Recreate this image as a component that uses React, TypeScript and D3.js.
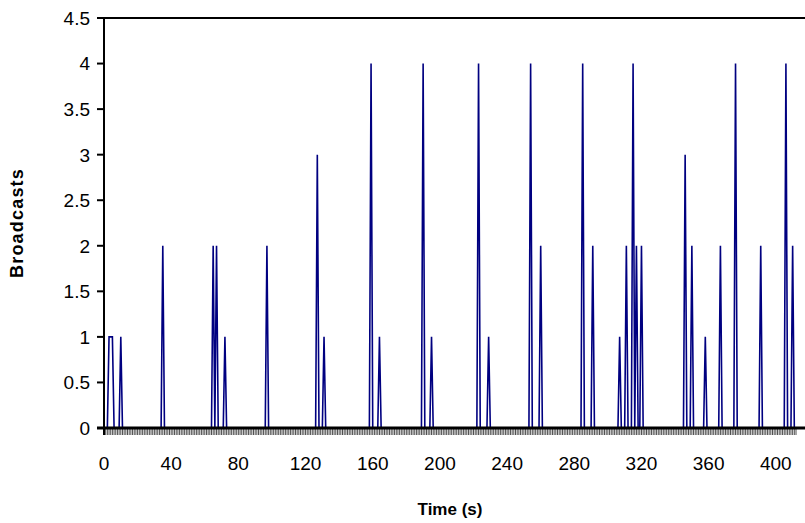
import React from 'react';
import * as d3 from 'd3';

// broadcast events: second -> number of broadcasts
const spikeTimes = [3, 4, 5, 10, 35, 65, 67, 72, 97, 127, 131, 159, 164, 190, 195, 223, 229, 254, 260,
  285, 291, 307, 311, 315, 317, 320, 346, 350, 358, 367, 376, 391, 406, 410];
const spikeValues = [1, 1, 1, 1, 2, 2, 2, 1, 2, 3, 1, 4, 1, 4, 1, 4, 1, 4, 2,
  4, 2, 1, 2, 4, 2, 2, 3, 2, 1, 2, 4, 2, 4, 2];
const lastSecond = 412;
const xTicks = [0, 40, 80, 120, 160, 200, 240, 280, 320, 360, 400];
const yTicks = [0, 0.5, 1, 1.5, 2, 2.5, 3, 3.5, 4, 4.5];

const W = 805;
const H = 523;
const left = 104;
const right = 796;
const top = 18;
const bottom = 428;

export default function App() {
  // every second has a point, zero unless a broadcast was recorded
  const series = d3.range(0, lastSecond + 1).map(t => {
    const i = spikeTimes.indexOf(t);
    return { t, v: i >= 0 ? spikeValues[i] : 0 };
  });

  const x = d3.scaleLinear().domain([0, lastSecond]).range([left, right]);
  const y = d3.scaleLinear().domain([0, 4.5]).range([bottom, top]);

  const line = d3.line<{ t: number; v: number }>()
    .x(d => x(d.t))
    .y(d => y(d.v));

  const font = 'Liberation Sans, Arial, sans-serif';

  return (
    <svg width={W} height={H} style={{ position: 'absolute', left: 0, top: 0, background: '#fff' }}>
      {/* top border */}
      <line x1={left - 7} x2={W} y1={top} y2={top} stroke="#000" strokeWidth={2} />

      {/* category ticks under the baseline, one per second */}
      {d3.range(0, lastSecond + 1).map(t => (
        <line key={'c' + t} x1={x(t)} x2={x(t)} y1={bottom} y2={bottom + 7}
          stroke="#222" strokeWidth={0.8} />
      ))}

      {/* y ticks + labels */}
      {yTicks.map(v => (
        <g key={'y' + v}>
          <line x1={left - 7} x2={left} y1={y(v)} y2={y(v)} stroke="#000" strokeWidth={2} />
          <text x={left - 14} y={y(v)} dy="0.36em" textAnchor="end"
            fontFamily={font} fontSize={19}>{v}</text>
        </g>
      ))}

      {/* series */}
      <path d={line(series) || ''} fill="none" stroke="#000080" strokeWidth={1.6} strokeLinejoin="miter" />

      {/* axes */}
      <line x1={left} x2={left} y1={top} y2={bottom + 7} stroke="#000" strokeWidth={2} />
      <line x1={left - 7} x2={W} y1={bottom} y2={bottom} stroke="#000" strokeWidth={3} />

      {xTicks.map(t => (
        <text key={'x' + t} x={x(t)} y={463} dy="0.36em" textAnchor="middle"
          fontFamily={font} fontSize={19}>{t}</text>
      ))}

      <text x={(left + right) / 2} y={509} dy="0.36em" textAnchor="middle"
        fontFamily={font} fontSize={17} fontWeight="bold">Time (s)</text>
      <text transform={`translate(17, ${(top + bottom) / 2}) rotate(-90)`} dy="0.36em"
        textAnchor="middle" fontFamily={font} fontSize={18} fontWeight="bold"
        letterSpacing={1.2}>Broadcasts</text>
    </svg>
  );
}
